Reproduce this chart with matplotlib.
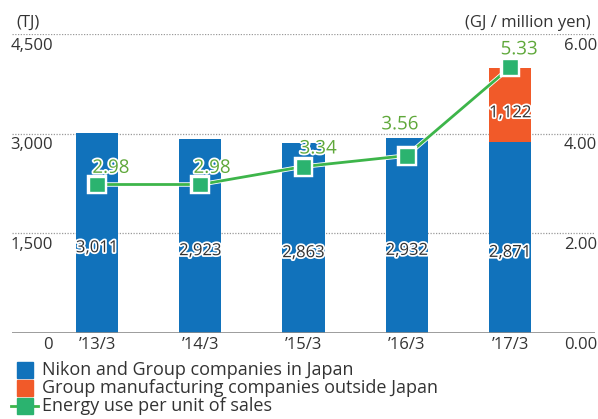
import matplotlib.pyplot as plt
import matplotlib.patheffects as pe
from matplotlib.patches import Rectangle
from matplotlib.lines import Line2D

# ---- data ----
years = ["\u201913/3", "\u201914/3", "\u201915/3", "\u201916/3", "\u201917/3"]
japan = [3011, 2923, 2863, 2932, 2871]
overseas = [0, 0, 0, 0, 1122]
intensity = [2.98, 2.98, 3.34, 3.56, 5.33]
left_ticks = [0, 1500, 3000, 4500]
right_ticks = [0.0, 2.0, 4.0, 6.0]

# label offsets (points) for the line values
line_lbl_off = [(10, 12), (8.5, 12), (10.5, 13), (-5, 22.5), (6.5, 13)]

BLUE = "#1172bb"
ORANGE = "#f15a29"
GREEN_LINE = "#3db54a"
GREEN_MARK = "#2bb36f"
GREEN_TXT = "#5fa83a"
TXT = "#333333"

plt.rcParams['font.family'] = ['Open Sans', 'DejaVu Sans']

W, H = 598, 419
fig = plt.figure(figsize=(W / 100, H / 100), dpi=100)


def fx(px):
    return px / W


def fy(py):
    return 1 - py / H


ax = fig.add_axes([fx(12), fy(333), fx(595) - fx(12), fy(34) - fy(333)])
x = list(range(len(years)))
ax.set_xlim(-0.823, len(years) - 1 + 0.823)
ax.set_ylim(0, 4500)
for s in ax.spines.values():
    s.set_visible(False)
ax.set_xticks([])
ax.set_yticks([])

# grid lines
for v in left_ticks[1:]:
    ax.axhline(v, color="#9a9a9a", lw=0.9, ls=(0, (1, 1.2)), zorder=0)
ax.axhline(0, color="#8c8c8c", lw=1.2, zorder=3)

# bars
ax.bar(x, japan, width=0.407, color=BLUE, zorder=2)
ax.bar(x, overseas, width=0.407, bottom=japan, color=ORANGE, zorder=2)

outline = [pe.withStroke(linewidth=2.5, foreground="white")]
for i, v in enumerate(japan):
    ax.annotate(f"{v:,}", (i, v / 2), xytext=(0, -11), textcoords="offset points",
                ha="center", va="center", fontsize=12, color=TXT,
                path_effects=outline, zorder=6)
for i, v in enumerate(overseas):
    if v:
        ax.annotate(f"{v:,}", (i, japan[i] + v / 2), xytext=(0, -6),
                    textcoords="offset points", ha="center", va="center",
                    fontsize=12, color=TXT, path_effects=outline, zorder=6)

# axis labels sit just below their grid lines
DROP = -8.5  # points
ytr = ax.get_yaxis_transform()
for v in left_ticks:
    ax.annotate(f"{v:,}", (0.0703, v), xycoords=ytr, xytext=(0, DROP),
                textcoords="offset points", ha="right", va="center",
                fontsize=12, color=TXT, annotation_clip=False)
for i, lab in enumerate(years):
    ax.annotate(lab, (i, 0), xytext=(0, DROP), textcoords="offset points",
                ha="center", va="center", fontsize=12, color=TXT,
                annotation_clip=False)

# line on secondary axis
ax2 = ax.twinx()
ax2.set_ylim(0, 6)
ax2.set_axis_off()
ax2.plot(x, intensity, color=GREEN_LINE, lw=2, marker="s", ms=11.5,
         mfc=GREEN_MARK, mec="white", mew=1, zorder=5,
         path_effects=[pe.Stroke(linewidth=3.2, foreground="white"), pe.Normal()])
for i, v in enumerate(intensity):
    ax2.annotate(f"{v:.2f}", (i, v), xytext=line_lbl_off[i], textcoords="offset points",
                 ha="center", va="center", fontsize=13.5, color=GREEN_TXT,
                 path_effects=outline, zorder=7)
ytr2 = ax2.get_yaxis_transform()
for v in right_ticks:
    ax2.annotate(f"{v:.2f}", (1.0034, v), xycoords=ytr2, xytext=(0, DROP),
                 textcoords="offset points", ha="right", va="center",
                 fontsize=12, color=TXT, annotation_clip=False)

fig.text(fx(16), fy(23), "(TJ)", ha="left", va="center", fontsize=12, color=TXT)
fig.text(fx(591), fy(23), "(GJ / million yen)", ha="right", va="center",
         fontsize=12, color=TXT)

# legend
leg_items = [("Nikon and Group companies in Japan", "bar", BLUE),
             ("Group manufacturing companies outside Japan", "bar", ORANGE),
             ("Energy use per unit of sales", "line", GREEN_MARK)]
for k, (lab, kind, col) in enumerate(leg_items):
    cy = 369.5 + 18 * k
    if kind == "bar":
        fig.add_artist(Rectangle((fx(17), fy(cy + 8)), fx(16), 16 / H,
                                 transform=fig.transFigure, color=col))
    else:
        fig.add_artist(Line2D([fx(11), fx(38)], [fy(cy), fy(cy)], color=GREEN_LINE, lw=2,
                              transform=fig.transFigure))
        fig.add_artist(Line2D([fx(24.5)], [fy(cy)], marker="s", ms=11.5, mfc=col,
                              mec=col, lw=0, transform=fig.transFigure))
    fig.text(fx(42), fy(cy), lab, ha="left", va="center", fontsize=13, color=TXT)

fig.savefig("out.png", dpi=100)
